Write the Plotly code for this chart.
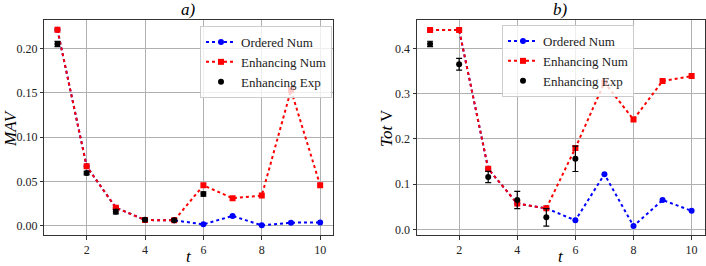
import plotly.graph_objects as go

t = [1, 2, 3, 4, 5, 6, 7, 8, 9, 10]
t_exp = [1, 2, 3, 4, 5, 6]

# Panel a) MAV
mav_ordered = [0.221, 0.067, 0.0203, 0.0064, 0.006, 0.0015, 0.011, 0.0004, 0.0034, 0.0037]
mav_enh = [0.221, 0.067, 0.0203, 0.0064, 0.006, 0.0455, 0.031, 0.034, 0.153, 0.0455]
mav_exp = [0.205, 0.0594, 0.0158, 0.0068, 0.0062, 0.0357]
mav_exp_err = [0.003, 0.002, 0.0025, 0.0015, 0.0015, 0.0025]

# Panel b) Tot V
tot_ordered = [0.441, 0.441, 0.134, 0.057, 0.0466, 0.020, 0.122, 0.0075, 0.065, 0.041]
tot_enh = [0.441, 0.441, 0.134, 0.057, 0.0466, 0.180, 0.325, 0.243, 0.328, 0.339]
tot_exp = [0.410, 0.365, 0.116, 0.065, 0.0266, 0.156]
tot_exp_err = [0.006, 0.013, 0.0125, 0.019, 0.0195, 0.028]

FONT = "Liberation Serif"
fig = go.Figure()

def add_panel(xa, ya, legend, ordered, enh, exp, err):
    fig.add_trace(go.Scatter(x=t, y=ordered, mode="lines+markers", name="Ordered Num",
                             line=dict(color="blue", dash="dot", width=2),
                             marker=dict(symbol="circle", size=6, color="blue"),
                             xaxis=xa, yaxis=ya, legend=legend))
    fig.add_trace(go.Scatter(x=t, y=enh, mode="lines+markers", name="Enhancing Num",
                             line=dict(color="red", dash="dot", width=2),
                             marker=dict(symbol="square", size=6, color="red"),
                             xaxis=xa, yaxis=ya, legend=legend))
    fig.add_trace(go.Scatter(x=t_exp, y=exp, mode="markers", name="Enhancing Exp",
                             marker=dict(symbol="circle", size=6, color="black"),
                             error_y=dict(type="data", array=err, color="black", thickness=1.2, width=3),
                             xaxis=xa, yaxis=ya, legend=legend))

add_panel("x", "y", "legend", mav_ordered, mav_enh, mav_exp, mav_exp_err)
add_panel("x2", "y2", "legend2", tot_ordered, tot_enh, tot_exp, tot_exp_err)

axis_common = dict(showgrid=True, gridcolor="#b0b0b0", gridwidth=0.8, showline=True,
                   linecolor="#333333", linewidth=1, mirror=True, ticks="outside",
                   ticklen=3.5, tickcolor="#333333", zeroline=False, automargin=False,
                   tickfont=dict(family=FONT, size=12, color="#222222"))

ydom = [31 / 266, 246 / 266]
fig.update_layout(
    width=706, height=266,
    margin=dict(l=0, r=0, t=0, b=0, autoexpand=False),
    plot_bgcolor="white", paper_bgcolor="white",
    font=dict(family=FONT, color="black"),
    xaxis=dict(domain=[44.3 / 706, 333.3 / 706], range=[0.55, 10.45], tickvals=[2, 4, 6, 8, 10],
               anchor="y", **axis_common),
    yaxis=dict(domain=ydom, range=[-0.0105, 0.232], tickvals=[0, 0.05, 0.1, 0.15, 0.2],
               tickformat=".2f", anchor="x", **axis_common),
    xaxis2=dict(domain=[417 / 706, 704.7 / 706], range=[0.55, 10.45], tickvals=[2, 4, 6, 8, 10],
                anchor="y2", **axis_common),
    yaxis2=dict(domain=ydom, range=[-0.0124, 0.463], tickvals=[0, 0.1, 0.2, 0.3, 0.4],
                tickformat=".1f", anchor="x2", **axis_common),
    showlegend=True,
    legend=dict(x=200 / 706, y=1 - 26 / 266, xanchor="left", yanchor="top",
                bgcolor="rgba(255,255,255,0.8)", bordercolor="#cccccc", borderwidth=1,
                font=dict(family=FONT, size=13, color="#222222"), tracegroupgap=0,
                itemwidth=30),
    legend2=dict(x=502 / 706, y=1 - 25 / 266, xanchor="left", yanchor="top",
                 bgcolor="rgba(255,255,255,0.8)", bordercolor="#cccccc", borderwidth=1,
                 font=dict(family=FONT, size=13, color="#222222"), tracegroupgap=0,
                 itemwidth=30),
)

ann_font = dict(family=FONT, size=17, color="black")
annotations = [
    dict(text="<i>a)</i>", x=(44.3 + 333.3) / 2 / 706, y=1 - 9 / 266),
    dict(text="<i>b)</i>", x=(417 + 704.7) / 2 / 706, y=1 - 9 / 266),
    dict(text="<i>t</i>", x=(44.3 + 333.3) / 2 / 706, y=1 - 256 / 266),
    dict(text="<i>t</i>", x=(417 + 704.7) / 2 / 706, y=1 - 256 / 266),
]
for a in annotations:
    fig.add_annotation(xref="paper", yref="paper", showarrow=False, font=ann_font,
                       xanchor="center", yanchor="middle", **a)
fig.add_annotation(text="<i>MAV</i>", xref="paper", yref="paper", x=10 / 706,
                   y=1 - 128 / 266, textangle=-90, showarrow=False, font=ann_font,
                   xanchor="center", yanchor="middle")
fig.add_annotation(text="<i>Tot</i> V", xref="paper", yref="paper", x=(353 + 33) / 706,
                   y=1 - 128 / 266, textangle=-90, showarrow=False, font=ann_font,
                   xanchor="center", yanchor="middle")

fig.write_html("out.html", config={"displayModeBar": False},
               post_script="document.body.style.margin='0px';")
